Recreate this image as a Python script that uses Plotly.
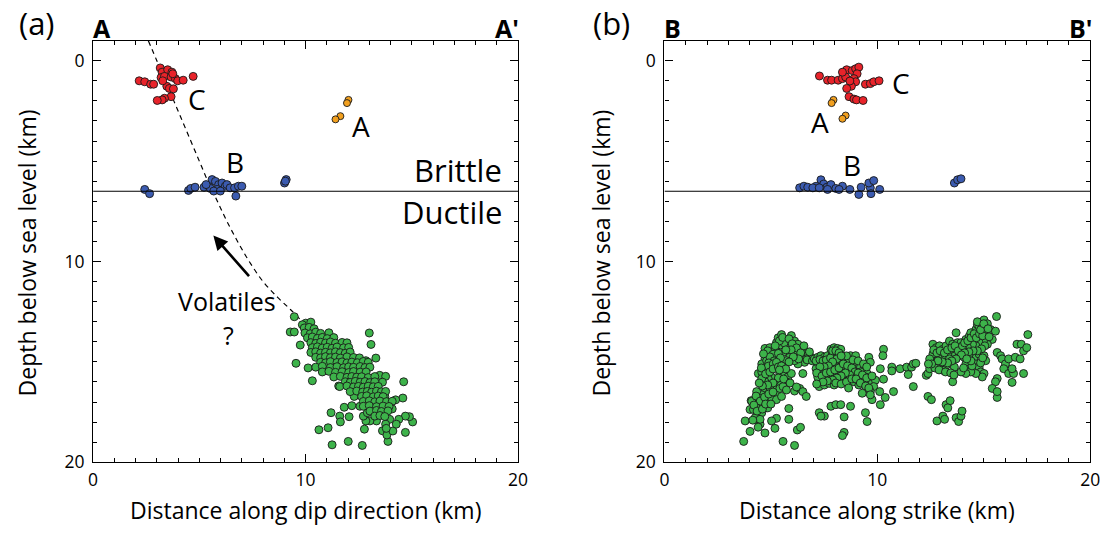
import plotly.graph_objects as go

W, H = 1114, 535
FONT = "Open Sans"

# ---------------- data (km) ----------------
# Panel (a): distance along dip, depth
a_red = [(2.17,1.00),(2.43,1.05),(2.71,1.17),(2.85,1.17),(3.16,0.36),(3.25,0.57),(3.51,0.45),(3.71,0.57),
         (3.20,0.84),(3.36,0.78),(3.67,0.81),(3.87,0.89),(3.98,1.00),(4.24,0.97),(4.71,0.78),(3.47,1.27),
         (3.59,1.38),(3.78,1.40),(3.67,1.79),(3.36,1.87),(3.25,1.95),(3.02,1.98),(3.28,1.00),(3.75,0.65)]
a_orange = [(12.02,1.95),(11.95,2.11),(11.64,2.76),(11.41,2.92)]
a_blue = [(2.43,6.41),(2.66,6.62),(4.49,6.46),(4.60,6.36),(4.80,6.30),(5.22,6.30),(5.45,6.25),(5.60,5.92),
          (5.76,6.01),(5.91,6.17),(5.84,6.41),(6.07,6.09),(6.22,6.25),(6.30,6.17),(6.45,6.33),(6.66,6.33),
          (6.84,6.25),(7.00,6.25),(6.72,6.74),(9.09,5.92),(9.01,6.09),(5.52,6.36),(5.68,6.49),(5.99,6.49),
          (5.32,6.17),(9.05,6.00)]
a_green = [
    (9.47,12.75),(9.28,13.51),(9.47,13.51),(9.75,14.16),(9.55,15.07),(10.32,15.94),(10.12,15.30),(13.00,13.56),
    (13.08,14.13),(13.31,14.81),(14.62,15.99),(14.58,16.80),(14.24,16.89),(11.20,17.53),(11.82,17.26),(12.18,17.18),
    (11.61,17.70),(11.64,17.99),(12.05,17.73),(10.63,18.38),(11.06,18.28),(11.25,19.13),(12.01,18.96),(12.67,19.16),
    (12.77,18.35),(13.88,18.96),(13.62,18.43),(13.83,18.64),(14.11,18.44),(14.70,18.51),(15.04,17.99),(14.89,17.73),
    (14.70,17.70),(14.39,17.86),(14.27,18.10),(13.96,17.86),(13.77,18.10),(13.80,18.31),(13.34,17.94),(13.03,17.94),
    (12.84,17.94),(12.72,17.70),(12.91,17.53),(13.49,17.57),(13.77,17.37),(14.08,17.34),(13.49,15.67),(13.77,15.72),
    (13.62,16.01),(11.56,16.20),(12.29,16.72),(12.91,16.72),(13.73,16.72),(12.56,17.21),(13.15,17.21),(12.84,14.94),
    (10.01,13.07),(10.25,13.02),(9.85,13.15),(10.12,13.42),
    (9.94,13.31),(10.17,13.28),(10.40,13.35),
    (9.97,13.56),(10.22,13.60),(10.48,13.52),(10.71,13.58),(11.10,13.55),
    (10.09,13.80),(10.32,13.76),(10.56,13.83),(10.79,13.78),(11.02,13.84),(11.33,13.79),
    (10.25,14.04),(10.48,14.08),(10.71,14.02),(10.94,14.06),(11.17,14.01),(11.41,14.07),(11.72,14.03),(11.95,14.05),
    (10.32,14.29),(10.56,14.25),(10.79,14.31),(11.02,14.27),(11.25,14.32),(11.48,14.26),(11.79,14.30),(12.03,14.28),
    (10.25,14.53),(10.48,14.50),(10.71,14.56),(10.94,14.52),(11.17,14.55),(11.41,14.50),(11.64,14.54),(11.87,14.57),(12.10,14.51),
    (10.48,14.77),(10.71,14.80),(10.94,14.74),(11.17,14.79),(11.41,14.76),(11.64,14.81),(11.95,14.75),(12.26,14.78),(12.54,14.80),
    (10.71,15.02),(10.94,15.05),(11.17,14.99),(11.48,15.03),(11.72,15.00),(11.95,15.05),(12.18,15.01),(12.44,15.04),(12.72,14.98),(12.95,15.02),
    (10.48,15.26),(10.79,15.22),(11.17,15.28),(11.48,15.24),(11.79,15.29),(12.03,15.25),(12.26,15.27),(12.57,15.23),(12.80,15.28),(13.03,15.26),
    (10.79,15.50),(11.10,15.47),(11.41,15.52),(11.72,15.49),(12.03,15.53),(12.26,15.48),(12.57,15.51),(12.85,15.50),
    (11.33,15.75),(11.64,15.72),(11.95,15.77),(12.18,15.73),(12.41,15.76),(12.64,15.74),(12.95,15.78),(13.26,15.73),
    (11.87,15.99),(12.10,16.02),(12.34,15.97),(12.57,16.01),(12.80,15.98),(13.03,16.03),(13.26,15.99),
    (11.61,16.23),(11.95,16.20),(12.26,16.25),(12.49,16.22),(12.72,16.26),(12.95,16.21),(13.19,16.24),(13.42,16.22),
    (12.10,16.48),(12.41,16.45),(12.69,16.50),(12.91,16.47),(13.11,16.51),(13.34,16.46),(13.57,16.49),(13.77,16.47),
    (12.64,16.72),(12.88,16.69),(13.19,16.74),(13.42,16.70),(13.65,16.73),
    (12.72,16.97),(13.00,16.94),(13.26,16.99),(13.50,16.95),(13.81,16.98),(14.08,16.96),
    (12.72,17.21),(13.00,17.18),(13.34,17.23),(13.65,17.20),(13.93,17.22),
    (13.03,17.45),(13.34,17.42),(13.57,17.47),(13.88,17.44),
    (13.26,17.70),(13.50,17.67),(13.73,17.72)]
# dashed "volatiles" path (x, depth)
a_path = [(2.60,-1.0),(3.0,0.0),(3.4,1.0),(3.8,2.0),(4.2,3.0),(4.6,4.0),(5.0,5.0),(5.4,6.0),(5.85,7.0),
          (6.3,8.0),(6.8,9.0),(7.35,10.0),(8.0,11.0),(8.7,11.8),(9.3,12.4),(9.85,13.0)]

# Panel (b): distance along strike, depth
b_red = [(7.28,0.76),(7.66,0.97),(7.85,0.97),(8.16,0.97),(8.36,0.89),(8.44,0.57),(8.56,0.45),(8.51,0.81),
         (8.82,0.49),(8.98,0.40),(9.13,0.32),(9.05,0.65),(8.90,0.89),(8.98,1.05),(8.78,1.27),(8.56,1.38),
         (8.67,1.79),(8.90,1.91),(9.02,1.95),(9.33,1.98),(9.44,1.17),(9.67,1.14),(9.83,1.05),(10.08,1.00),
         (8.71,1.01),(8.36,0.57)]
b_orange = [(7.94,1.95),(7.85,2.11),(8.51,2.73),(8.36,2.89)]
b_blue = [(6.35,6.33),(6.55,6.25),(6.73,6.30),(7.12,6.25),(7.35,5.93),(7.48,6.14),(7.63,6.30),(7.82,6.17),
          (8.05,6.36),(8.36,6.25),(8.71,6.41),(9.24,6.30),(9.13,6.66),(9.67,6.33),(9.60,6.09),(9.83,5.97),
          (9.70,6.62),(10.11,6.41),(13.62,6.09),(13.77,5.93),(13.93,5.88),(6.97,6.33),(8.20,6.41),(7.27,6.33),
          (7.66,6.41)]
b_green = [
    (3.72,18.96),(4.02,18.46),(3.79,17.94),(4.72,18.54),(5.19,18.31),(5.26,17.81),(5.57,18.96),(6.11,19.16),
    (6.24,18.39),(6.39,18.26),(5.84,17.86),(5.84,17.32),(4.41,17.94),(4.49,18.10),(4.07,16.93),(4.02,17.37),(5.03,17.94),
    (4.72,14.33),(4.95,14.29),(5.03,14.50),(5.26,14.04),(5.34,13.80),(5.50,13.64),(5.65,13.88),(5.73,14.20),
    (5.80,14.04),(5.96,13.69),(6.04,14.29),(6.11,13.96),(6.27,14.12),(6.35,14.45),(6.50,14.37),(6.58,14.61),
    (6.73,14.69),(6.89,14.77),(6.81,14.50),(6.19,14.61),(5.88,14.53),(5.57,14.53),(5.42,14.37),(5.19,14.45),
    (4.88,14.61),(4.72,14.85),(4.57,15.10),(4.80,14.94),(5.03,14.85),(5.26,14.77),(5.57,14.29),(6.42,14.77),
    (6.58,15.02),(6.66,14.85),(6.27,15.10),(6.11,14.94),(5.88,14.77),(5.73,14.94),
    (4.85,14.45),(5.10,14.62),(5.35,14.58),(5.45,14.15),(5.62,14.05),(5.40,13.95),(5.55,13.78),(5.85,13.85),
    (6.00,14.10),(6.20,14.30),(6.40,14.55),(6.70,14.90),(6.95,14.95),(5.95,14.40),(5.70,14.40),(5.20,14.20),
    (4.95,14.75),(4.65,14.60),(6.55,14.20),(6.30,14.85),(6.05,14.75),(5.85,15.00),(5.45,14.80),(5.15,14.95),(4.90,15.05),
    (4.41,15.58),(4.57,15.50),(4.72,15.34),(4.88,15.21),(5.11,15.10),(5.26,15.02),(5.42,15.58),(5.50,15.50),
    (5.65,15.67),(5.80,15.75),(5.96,15.58),(5.73,15.99),(5.50,15.99),(5.34,16.07),(5.19,15.91),(5.03,15.75),
    (4.88,15.86),(4.72,15.99),(4.57,15.83),(5.19,16.32),(4.95,16.32),(4.72,16.48),(4.57,16.64),(4.41,16.80),
    (4.33,16.48),(4.26,16.96),(4.10,16.96),(4.18,17.37),(4.41,17.29),(4.64,17.13),(4.80,16.96),(5.03,16.80),
    (5.26,16.56),(5.42,16.32),(5.57,16.23),(5.73,16.40),(6.11,16.45),(6.35,16.32),(6.50,16.48),(6.66,16.72),
    (4.38,17.61),(4.57,17.53),(4.26,17.78),(4.85,17.29),(4.49,17.86),(4.95,16.48),(5.26,16.88),(5.50,16.72),(6.50,15.58),
    (4.55,15.30),(4.75,15.60),(4.95,15.50),(5.10,15.35),(5.35,15.25),(5.50,15.20),(5.70,15.35),(5.35,15.80),
    (5.10,16.05),(4.85,16.15),(4.60,16.20),(4.45,16.05),(4.30,16.70),(4.50,16.95),(4.70,16.75),(4.90,16.60),
    (5.10,16.50),(4.20,17.15),(4.35,17.45),(4.60,17.35),(4.75,17.10),(5.00,17.10),(4.40,18.25),(4.15,17.90),
    (5.40,15.40),(5.60,15.85),(5.90,16.05),(6.20,16.25),
    (7.04,14.85),(7.20,14.77),(7.35,14.69),(7.51,14.77),(7.66,14.69),(7.82,14.37),(7.97,14.29),(8.13,14.33),
    (8.28,14.37),(7.89,14.61),(8.05,14.69),(7.74,14.94),(7.58,15.10),(7.35,15.10),(7.20,15.02),(7.12,15.34),
    (7.27,15.50),(7.43,15.42),(7.66,15.34),(7.82,15.18),(7.97,15.02),(8.20,14.94),(8.36,14.85),(8.51,14.94),
    (8.67,15.02),(8.74,14.69),(8.98,14.69),(8.90,15.18),(9.05,15.34),(9.21,15.26),(9.36,15.42),(9.52,15.58),
    (9.60,14.77),(9.67,15.02),(9.44,15.75),(9.29,15.83),(9.05,15.67),(8.82,15.50),(8.59,15.42),(8.44,15.67),
    (8.20,15.50),(7.97,15.67),(7.82,15.83),(7.58,15.75),(7.35,15.91),(7.27,16.23),(7.51,16.15),(7.74,16.07),
    (7.97,16.15),(8.20,15.99),(8.44,15.91),(8.67,15.83),(8.90,15.99),(9.13,16.15),(9.36,15.99),(9.60,15.91),
    (9.75,16.07),(9.91,15.91),(9.83,16.23),(9.67,16.48),(9.29,16.56),(7.20,15.75),(7.51,15.58),(8.13,15.26),
    (8.51,15.26),(9.21,15.50),
    (7.12,14.95),(7.30,14.88),(7.45,14.95),(7.60,14.90),(7.80,14.80),(7.90,14.45),(8.05,14.45),(8.20,14.55),
    (8.10,14.85),(7.90,15.00),(7.70,15.20),(7.50,15.25),(7.30,15.25),(7.15,15.55),(7.40,15.70),(7.60,15.55),
    (7.80,15.50),(8.00,15.40),(8.20,15.30),(8.40,15.10),(8.60,15.20),(8.80,15.30),(8.95,15.50),(9.10,15.55),
    (9.30,15.65),(9.50,15.80),(8.70,15.65),(8.50,15.55),(8.30,15.70),(8.10,15.80),(7.90,15.90),(7.65,15.95),
    (7.45,16.00),(8.05,16.05),(8.30,16.10),(8.55,16.00),(8.80,15.85),(9.00,15.85),(9.20,16.05),(9.45,16.20),
    (7.15,16.10),(8.85,14.90),(9.10,14.95),(9.35,15.10),(9.50,15.25),(8.55,14.70),(8.30,14.70),(9.75,15.70),
    (9.60,16.30),(8.65,16.30),
    (7.27,17.53),(7.51,17.70),(7.35,17.70),(7.82,17.21),(8.05,17.13),(8.28,17.13),(8.44,17.74),(8.44,18.51),
    (8.36,18.67),(8.74,17.21),(9.44,17.53),(9.52,17.97),(9.75,16.88),(9.67,16.64),(10.14,17.13),(10.37,16.77),
    (10.76,16.48),(10.11,16.48),
    (10.29,14.37),(10.26,14.69),(10.14,15.34),(10.29,15.86),(10.68,15.26),(10.68,15.45),(11.07,15.34),(11.38,15.26),
    (11.61,15.26),(11.69,15.10),(11.81,15.07),(11.45,15.63),(11.69,16.23),(12.30,15.67),(12.38,15.58),
    (12.61,14.12),(12.77,14.29),(12.92,14.20),(13.08,14.37),(13.23,14.20),(13.39,13.96),(13.54,14.12),(13.77,14.04),
    (13.93,14.04),(14.16,13.88),(14.32,13.72),(14.47,13.55),(14.63,13.39),(14.70,13.15),(14.86,13.07),(15.01,12.91),
    (15.17,13.10),(14.78,13.23),(14.55,13.72),(14.39,13.55),(14.93,13.31),(15.09,13.47),(15.32,13.39),(15.55,13.47),
    (15.40,13.88),(15.60,12.74),(15.17,14.12),(15.01,13.88),(14.78,14.04),(14.63,14.20),(14.47,14.12),(14.24,14.29),
    (14.01,14.37),(13.85,14.29),(13.70,14.45),(13.54,14.61),(13.31,14.61),(13.08,14.69),(12.85,14.77),(12.69,15.02),
    (12.54,14.94),(12.61,14.61),(13.39,14.85),(13.70,13.55),(13.46,14.37),(13.23,15.18),(13.08,15.42),(12.92,15.10),
    (12.77,15.26),(12.46,15.34),(13.62,15.26),(13.85,14.69),(14.08,14.77),(14.16,15.10),(14.32,15.34),(14.55,14.77),
    (14.63,15.10),(14.78,15.26),(14.86,15.50),(15.01,15.58),(14.93,15.75),(14.63,15.58),(14.39,15.50),(14.16,15.58),
    (13.93,15.50),(14.78,14.61),(15.01,14.69),(15.09,14.94),(14.32,14.61),(13.54,15.99),(12.46,14.85),
    (12.65,14.40),(12.80,14.55),(12.95,14.45),(13.15,14.55),(13.30,14.40),(13.50,14.30),(13.65,14.20),(13.80,14.45),
    (14.00,14.20),(14.10,14.05),(14.25,13.95),(14.40,13.80),(14.55,13.60),(14.65,13.80),(14.80,13.60),(14.95,13.70),
    (14.85,13.40),(14.70,13.00),(15.00,13.10),(15.20,13.35),(15.25,13.75),(15.05,14.20),(14.90,14.35),(14.70,14.45),
    (14.50,14.45),(14.30,14.50),(14.10,14.55),(13.95,14.65),(13.70,14.85),(13.50,14.95),(13.30,15.05),(13.05,15.00),
    (12.85,14.95),(12.70,15.30),(12.55,15.10),(12.90,15.40),(13.20,15.50),(13.45,15.55),(14.05,15.30),(14.45,15.20),
    (14.85,15.05),(14.95,14.80),(14.40,14.95),(14.20,14.85),(13.60,15.65),(12.40,15.10),
    (15.63,14.53),(15.79,14.69),(15.86,14.85),(16.02,15.10),(15.94,15.34),(16.17,15.58),(16.40,15.58),(16.33,15.34),
    (16.17,14.85),(16.48,14.77),(16.56,14.12),(16.76,14.12),(16.87,14.45),(17.02,14.29),(17.07,13.64),(16.71,14.85),
    (16.87,15.58),(15.63,15.83),(15.55,15.99),(15.40,16.32),(15.63,16.77),(16.33,16.02),(15.63,16.48),
    (12.38,16.72),(12.54,16.88),(12.80,17.94),(13.08,17.70),(13.23,17.13),(13.42,16.93),(13.31,17.29),(13.70,17.78),
    (13.82,17.97),(13.93,17.70),(13.98,17.45),(13.16,17.86)]

brittle_ductile_depth = 6.5
x_range = [0, 20]
y_range = [20, -1]
x_ticks = [0, 10, 20]
y_ticks = [0, 10, 20]

RED, ORANGE, BLUE, GREEN = "#e8232a", "#f2a01f", "#3b5bb0", "#3db34a"

# ---------------- figure ----------------
fig = go.Figure()

def px2x(p):
    return p / W

def px2y(p):
    return 1 - p / H

def add_pts(pts, color, xa, ya, size=8):
    fig.add_trace(go.Scatter(
        x=[p[0] for p in pts], y=[p[1] for p in pts], mode="markers",
        marker=dict(size=size, color=color, line=dict(color="#1a1a1a", width=0.9)),
        xaxis=xa, yaxis=ya, showlegend=False, hoverinfo="skip"))

# dashed path (panel a)
fig.add_trace(go.Scatter(x=[p[0] for p in a_path], y=[p[1] for p in a_path], mode="lines",
                         line=dict(color="black", width=1.2, dash="5px,4px", shape="spline"),
                         xaxis="x", yaxis="y", showlegend=False, hoverinfo="skip"))

for pts, c in [(a_green, GREEN), (a_blue, BLUE), (a_red, RED), (a_orange, ORANGE)]:
    add_pts(pts, c, "x", "y", 8 if c != ORANGE else 7)
for pts, c in [(b_green, GREEN), (b_blue, BLUE), (b_red, RED), (b_orange, ORANGE)]:
    add_pts(pts, c, "x2", "y2", 8 if c != ORANGE else 7)

axis_common = dict(
    showline=True, linecolor="black", linewidth=1.3, mirror="allticks",
    ticks="inside", ticklen=8, tickwidth=1, tickcolor="black",
    showgrid=False, zeroline=False,
    tickfont=dict(family=FONT, size=17.5, color="black"),
    minor=dict(dtick=1, ticks="inside", ticklen=4, tickwidth=1, tickcolor="black", showgrid=False),
)

ytop, ybot = 41.5, 472
dom_y = [px2y(ybot), px2y(ytop)]
fig.update_layout(
    width=W, height=H, margin=dict(l=0, r=0, t=0, b=0),
    paper_bgcolor="white", plot_bgcolor="white",
    font=dict(family=FONT, color="black"),
    xaxis=dict(axis_common, range=x_range, tickvals=x_ticks, domain=[px2x(89.3), px2x(520)], anchor="y", ticklabelstandoff=2),
    yaxis=dict(axis_common, range=y_range, tickvals=y_ticks, domain=dom_y, anchor="x", ticklabelstandoff=4),
    xaxis2=dict(axis_common, range=x_range, tickvals=x_ticks, domain=[px2x(668.5), px2x(1100)], anchor="y2", ticklabelstandoff=2),
    yaxis2=dict(axis_common, range=y_range, tickvals=y_ticks, domain=dom_y, anchor="x2", ticklabelstandoff=4),
)

# brittle-ductile line
for xr, yr in [("x", "y"), ("x2", "y2")]:
    fig.add_shape(type="line", xref=xr, yref=yr, x0=x_range[0], x1=x_range[1],
                  y0=brittle_ductile_depth, y1=brittle_ductile_depth, line=dict(color="black", width=1.2))

def ann(text, x, y, size, xref="paper", yref="paper", xanchor="center", yanchor="middle", bold=False, angle=0):
    fig.add_annotation(text=f"<b>{text}</b>" if bold else text, x=x, y=y, xref=xref, yref=yref,
                       xanchor=xanchor, yanchor=yanchor, showarrow=False, textangle=angle,
                       font=dict(family=FONT, size=size, color="black"))

# panel letters
ann("(a)", px2x(32), px2y(23), 31)
ann("(b)", px2x(615), px2y(23), 31)
ann("A", px2x(87), px2y(29), 25, xanchor="left", bold=True)
ann("A'", px2x(523), px2y(29), 25, xanchor="right", bold=True)
ann("B", px2x(666), px2y(29), 25, xanchor="left", bold=True)
ann("B'", px2x(1104), px2y(29), 25, xanchor="right", bold=True)

# axis titles
ann("Distance along dip direction (km)", px2x(305), px2y(521), 23)
ann("Distance along strike (km)", px2x(884), px2y(521), 23)
ann("Depth below sea level (km)", px2x(22), px2y(258), 23, angle=-90)
ann("Depth below sea level (km)", px2x(604), px2y(258), 23, angle=-90)

# in-plot labels (data coords)
ann("C", 4.9, 1.9, 28, "x", "y")
ann("A", 12.6, 3.25, 28, "x", "y")
ann("B", 6.7, 5.05, 28, "x", "y")
ann("Brittle", 19.35, 5.45, 31, "x", "y", xanchor="right")
ann("Ductile", 19.35, 7.55, 31, "x", "y", xanchor="right")
ann("Volatiles", 6.3, 11.95, 25, "x", "y")
ann("?", 6.35, 13.65, 25, "x", "y")
ann("C", 11.1, 1.1, 28, "x2", "y2")
ann("A", 7.3, 3.05, 28, "x2", "y2")
ann("B", 8.8, 5.2, 28, "x2", "y2")

# arrow (head at data point, tail offset in pixels)
fig.add_annotation(x=5.66, y=8.71, xref="x", yref="y", ax=37, ay=42,
                   showarrow=True, arrowhead=2, arrowsize=1.1, arrowwidth=2.6, arrowcolor="black", text="")

fig.write_html("out.html")
